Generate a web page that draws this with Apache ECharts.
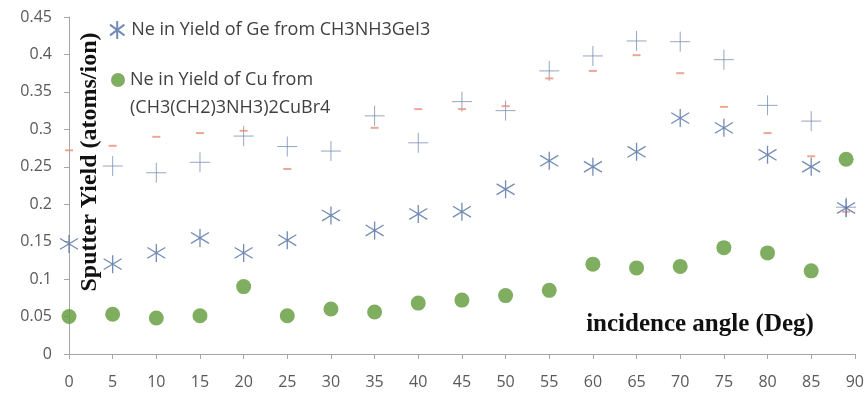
<!DOCTYPE html>
<html>
<head>
<meta charset="utf-8">
<script src="https://cdn.jsdelivr.net/npm/echarts@6/dist/echarts.min.js"></script>
<style>
  html, body { margin: 0; padding: 0; background: #fff; }
  #main { width: 867px; height: 394px; }
</style>
</head>
<body>
<div id="main"></div>
<script>
// incidence angles (deg)
var angles = [0, 5, 10, 15, 20, 25, 30, 35, 40, 45, 50, 55, 60, 65, 70, 75, 80, 85, 89];

// Ne in Yield of Ge from CH3NH3GeI3 (asterisks)
var geYield = [0.147, 0.120, 0.135, 0.155, 0.135, 0.152, 0.185, 0.165, 0.187, 0.190,
               0.220, 0.258, 0.250, 0.270, 0.315, 0.302, 0.266, 0.250, 0.195];

// Ne in Yield of Cu from (CH3(CH2)3NH3)2CuBr4 (circles)
var cuYield = [0.050, 0.053, 0.048, 0.051, 0.090, 0.051, 0.060, 0.056, 0.068, 0.072,
               0.078, 0.085, 0.120, 0.115, 0.117, 0.142, 0.135, 0.111, 0.260];

// unlabelled series drawn as plus signs
var plusYield = [null, 0.251, 0.242, 0.256, 0.291, 0.277, 0.271, 0.318, 0.282, 0.337,
                 0.325, 0.378, 0.398, 0.418, 0.417, 0.393, 0.332, 0.311, 0.196];

// unlabelled series drawn as short red dashes
var dashYield = [0.272, 0.278, 0.290, 0.295, 0.298, 0.247, null, 0.302, 0.327, 0.327,
                 0.331, 0.368, 0.378, 0.399, 0.375, 0.330, 0.295, 0.264, 0.190];

var xTicks = { min: 0, max: 90, step: 5 };
var yTicks = { min: 0, max: 0.45, step: 0.05 };

var pairs = function(ys) {
  return angles.map(function(a, i) { return [a, ys[i]]; });
};

var asterisk = 'path://M10,0 L10,20 M2,4 L18,16 M2,16 L18,4';
var plus = 'path://M10,0 L10,20 M0,10 L20,10';

var labelFont = { color: '#595959', fontSize: 16, fontFamily: 'Open Sans' };
var legendFont = { color: '#404040', fontSize: 18, fontFamily: 'Open Sans' };

var chart = echarts.init(document.getElementById('main'));

chart.setOption({
  animation: false,
  grid: { left: 69, right: 12, top: 17, bottom: 40, containLabel: false },
  legend: [{
    data: ['Ne in Yield of Ge from CH3NH3GeI3'],
    left: 109, top: 20, padding: 0,
    itemWidth: 18, itemHeight: 18, itemGap: 0,
    textStyle: Object.assign({ lineHeight: 20 }, legendFont)
  }, {
    data: ['Ne in Yield of Cu from (CH3(CH2)3NH3)2CuBr4'],
    // leading blank line keeps the icon level with the first text line
    formatter: function(n) { return '\nNe in Yield of Cu from\n(CH3(CH2)3NH3)2CuBr4'; },
    left: 111, top: 38, padding: 0,
    itemWidth: 14, itemHeight: 14,
    textStyle: Object.assign({ lineHeight: 28 }, legendFont)
  }],
  xAxis: {
    type: 'value',
    min: xTicks.min, max: xTicks.max, interval: xTicks.step,
    axisLine: { lineStyle: { color: '#a6a6a6' } },
    axisTick: { show: true, length: 5, lineStyle: { color: '#a6a6a6' } },
    axisLabel: Object.assign({ margin: 20 }, labelFont),
    splitLine: { show: false }
  },
  yAxis: {
    type: 'value',
    min: yTicks.min, max: yTicks.max, interval: yTicks.step,
    axisLine: { show: true, lineStyle: { color: '#a6a6a6' } },
    axisTick: { show: true, length: 5, lineStyle: { color: '#a6a6a6' } },
    axisLabel: Object.assign({ margin: 17 }, labelFont),
    splitLine: { show: false }
  },
  graphic: [{
    type: 'text',
    x: 90, y: 162, rotation: Math.PI / 2,
    style: {
      text: 'Sputter Yield (atoms/ion)',
      fill: '#111', font: 'bold 24px "Liberation Serif"',
      align: 'center', verticalAlign: 'middle'
    }
  }, {
    type: 'text',
    x: 700, y: 325,
    style: {
      text: 'incidence angle (Deg)',
      fill: '#111', font: 'bold 25px "Liberation Serif"',
      align: 'center', verticalAlign: 'middle'
    }
  }],
  series: [{
    name: 'plus',
    type: 'scatter',
    data: pairs(plusYield),
    symbol: plus, symbolSize: 20,
    itemStyle: { color: 'transparent', borderColor: '#7b8fb3', borderWidth: 1 }
  }, {
    name: 'dash',
    type: 'scatter',
    data: pairs(dashYield),
    symbol: 'rect', symbolSize: [8, 2],
    itemStyle: { color: '#e8907a' }
  }, {
    name: 'Ne in Yield of Ge from CH3NH3GeI3',
    type: 'scatter',
    data: pairs(geYield),
    symbol: asterisk, symbolSize: 18,
    itemStyle: { color: 'transparent', borderColor: '#4f6fa3', borderWidth: 1.3 }
  }, {
    name: 'Ne in Yield of Cu from (CH3(CH2)3NH3)2CuBr4',
    type: 'scatter',
    data: pairs(cuYield),
    symbol: 'circle', symbolSize: 15,
    itemStyle: { color: '#5f9a3a' }
  }]
});
</script>
</body>
</html>
